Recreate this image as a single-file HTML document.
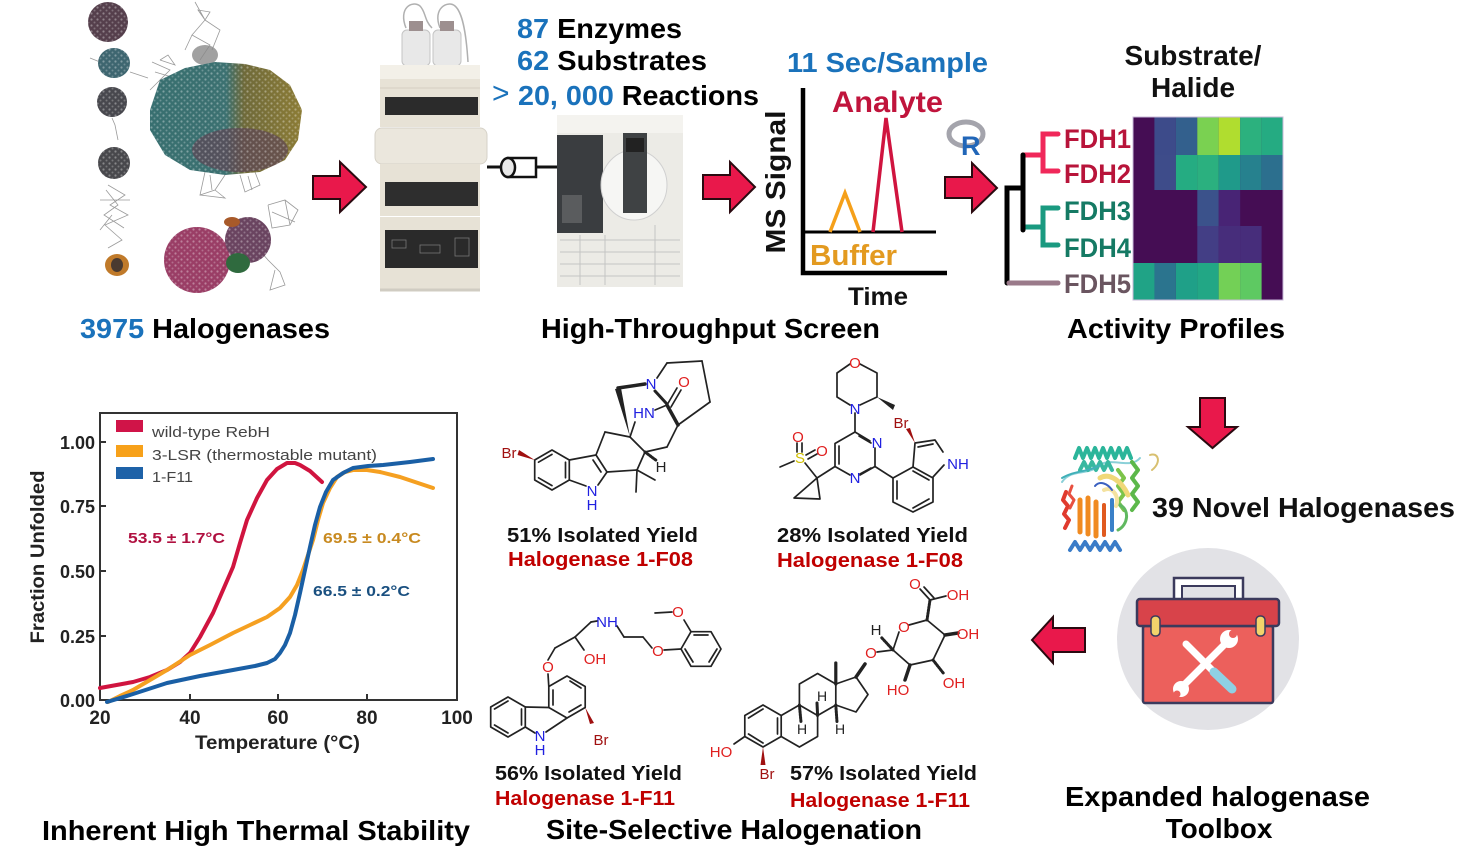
<!DOCTYPE html>
<html><head><meta charset="utf-8"><style>
html,body{margin:0;padding:0;background:#fff;}
svg{display:block;}
text{font-family:"Liberation Sans",Arial,sans-serif;}
</style></head><body>
<svg width="1475" height="866" viewBox="0 0 1475 866" xmlns="http://www.w3.org/2000/svg">
<defs>
<pattern id="dots" width="6" height="6" patternUnits="userSpaceOnUse">
<circle cx="1.5" cy="1.5" r="1.1" fill="#ffffff" opacity="0.35"/>
<circle cx="4.5" cy="4.5" r="1" fill="#ffffff" opacity="0.25"/>
</pattern>
<linearGradient id="blobg" x1="0" y1="0" x2="1" y2="0">
<stop offset="0" stop-color="#386f70"/><stop offset="0.5" stop-color="#3c7171"/>
<stop offset="0.62" stop-color="#6f6a3a"/><stop offset="1" stop-color="#8c7c36"/>
</linearGradient>
</defs>
<rect width="1475" height="866" fill="#fff"/>

<!-- ===== NETWORK ===== -->
<g stroke="#9a9a9a" stroke-width="0.8" fill="none">
<path d="M195,2 L205,20 L192,35 L210,45 L200,60 M205,20 L220,30 L212,50 M192,35 L185,50 M205,20 L198,10 L210,12 L205,20"/>
<path d="M152,62 L170,70 L160,80 L175,78 L155,72 M165,75 L150,90 M160,60 L175,65 L168,55 L160,60"/>
<path d="M205,172 L200,195 L215,190 L225,175 M240,175 L245,192 L260,185 L255,172 M200,195 L225,198 L215,190 M210,175 L212,190 M248,176 L252,190"/>
<path d="M90,58 L100,62 M130,72 L148,78 M112,118 L115,125 L118,140 M108,185 L125,195 L110,205 L128,215 L105,225 L122,240 L108,248 M100,200 L130,200 M112,215 L100,230 M106,190 L118,205 L104,215 L124,228"/>
<path d="M268,205 L285,200 L298,210 L290,225 L272,228 L268,205 M285,200 L290,225 M255,245 L268,260 L280,272 L285,285 L270,290 L275,270 M272,212 L295,222"/>
</g>
<ellipse cx="108" cy="22" rx="20" ry="20" fill="#553f4c"/><ellipse cx="108" cy="22" rx="20" ry="20" fill="url(#dots)"/>
<ellipse cx="114" cy="63" rx="16" ry="15" fill="#3e6670"/><ellipse cx="114" cy="63" rx="16" ry="15" fill="url(#dots)"/>
<ellipse cx="112" cy="102" rx="15" ry="15" fill="#48484e"/><ellipse cx="112" cy="102" rx="15" ry="15" fill="url(#dots)"/>
<ellipse cx="114" cy="163" rx="16" ry="16" fill="#48484c"/><ellipse cx="114" cy="163" rx="16" ry="16" fill="url(#dots)"/>
<ellipse cx="117" cy="265" rx="12" ry="11" fill="#c07a2a"/><ellipse cx="117" cy="265" rx="6" ry="7" fill="#4a3a30"/>
<ellipse cx="205" cy="55" rx="13" ry="10" fill="#8a8a8a" opacity="0.8"/>
<path d="M150,110 L160,80 L185,68 L215,62 L245,64 L270,70 L290,85 L302,110 L298,140 L285,160 L260,172 L225,175 L190,170 L165,155 L150,130 Z" fill="url(#blobg)"/>
<ellipse cx="240" cy="150" rx="48" ry="22" fill="#5e4656" opacity="0.7"/>
<path d="M150,110 L160,80 L185,68 L215,62 L245,64 L270,70 L290,85 L302,110 L298,140 L285,160 L260,172 L225,175 L190,170 L165,155 L150,130 Z" fill="url(#dots)"/>
<circle cx="197" cy="260" r="33" fill="#9a3e66"/><circle cx="197" cy="260" r="33" fill="url(#dots)"/>
<circle cx="248" cy="240" r="23" fill="#6a4460"/><circle cx="248" cy="240" r="23" fill="url(#dots)"/>
<ellipse cx="238" cy="263" rx="12" ry="10" fill="#2f6a3e"/>
<ellipse cx="232" cy="222" rx="8" ry="5" fill="#a85a2a"/>

<!-- ===== HPLC ===== -->
<g>
<path d="M406,28 C398,8 412,0 420,6 C426,12 424,20 432,28" stroke="#b0b0b0" fill="none" stroke-width="1.5"/>
<path d="M440,28 C432,8 448,0 455,6 C462,12 466,30 468,62" stroke="#b0b0b0" fill="none" stroke-width="1.5"/>
<rect x="402" y="30" width="28" height="36" rx="5" fill="#e8e8e8" stroke="#c4c4c4"/>
<rect x="409" y="21" width="14" height="10" fill="#9d8f8f"/>
<rect x="433" y="30" width="28" height="36" rx="5" fill="#e8e8e8" stroke="#c4c4c4"/>
<rect x="440" y="21" width="14" height="10" fill="#9d8f8f"/>
<rect x="380" y="65" width="100" height="62" fill="#e7e2d6"/>
<rect x="380" y="65" width="100" height="14" fill="#f3f0e8"/>
<line x1="380" y1="88" x2="480" y2="88" stroke="#d4cfc2"/>
<rect x="385" y="97" width="93" height="18" fill="#2b2b2b"/>
<rect x="375" y="128" width="112" height="36" rx="7" fill="#ebe7dd" stroke="#d6d2c8"/>
<rect x="380" y="164" width="100" height="52" fill="#e7e2d6"/>
<rect x="385" y="182" width="93" height="24" fill="#2e2e2e"/>
<rect x="380" y="217" width="100" height="72" fill="#e7e2d6"/>
<rect x="385" y="230" width="93" height="38" fill="#2a2a2a"/>
<g stroke="#777" stroke-width="0.8" fill="none"><rect x="392" y="240" width="14" height="8"/><rect x="420" y="245" width="20" height="8"/><rect x="455" y="238" width="14" height="18"/></g>
<line x1="380" y1="290" x2="480" y2="290" stroke="#d0ccc2" stroke-width="3"/>
</g>
<!-- column connector -->
<line x1="487" y1="167" x2="557" y2="167" stroke="#111" stroke-width="3"/>
<rect x="508" y="158" width="28" height="19" fill="#fff" stroke="#111" stroke-width="2.5"/>
<ellipse cx="508" cy="167.5" rx="7" ry="9.5" fill="#e8e8e8" stroke="#111" stroke-width="2.5"/>
<!-- MS machine -->
<g>
<rect x="557" y="115" width="126" height="172" fill="#ecebe6"/>
<rect x="557" y="115" width="126" height="18" fill="#f4f3ef"/>
<rect x="557" y="135" width="46" height="98" fill="#3a3d40"/>
<rect x="562" y="195" width="20" height="28" fill="#5a5c5e"/>
<ellipse cx="634" cy="185" rx="33" ry="35" fill="#f6f6f4" stroke="#d0d0d0"/>
<rect x="623" y="133" width="24" height="80" fill="#3f4244"/>
<rect x="626" y="138" width="18" height="14" fill="#222"/>
<g stroke="#c4c4c4" stroke-width="1">
<line x1="560" y1="240" x2="680" y2="240"/><line x1="560" y1="252" x2="680" y2="252"/><line x1="560" y1="264" x2="680" y2="264"/><line x1="560" y1="276" x2="680" y2="276"/>
<line x1="580" y1="235" x2="580" y2="285"/><line x1="605" y1="235" x2="605" y2="285"/><line x1="655" y1="225" x2="655" y2="285"/>
</g>
</g>

<!-- ===== ARROWS ===== -->
<g fill="#e9184b" stroke="#2a0a10" stroke-width="2" stroke-linejoin="miter">
<path d="M313,176 L340,176 L340,162 L366,187 L340,212 L340,199 L313,199 Z"/>
<path d="M703,175 L730,175 L730,162 L755,187 L730,212 L730,199 L703,199 Z"/>
<path d="M945,177 L972,177 L972,163 L997,188 L972,212 L972,198 L945,198 Z"/>
<path d="M1200,398 L1225,398 L1225,427 L1237,427 L1212.5,448 L1188,427 L1200,427 Z"/>
<path d="M1085,628 L1053,628 L1053,617 L1032,640 L1053,663 L1053,652 L1085,652 Z"/>
</g>

<!-- ===== TOP TEXTS ===== -->
<g font-weight="bold" font-size="28">
<text x="80" y="338" textLength="250" lengthAdjust="spacingAndGlyphs"><tspan fill="#1a72bb">3975</tspan><tspan fill="#000"> Halogenases</tspan></text>
<text x="541" y="338" textLength="339" lengthAdjust="spacingAndGlyphs" fill="#000">High-Throughput Screen</text>
<text x="1067" y="338" textLength="218" lengthAdjust="spacingAndGlyphs" fill="#000">Activity Profiles</text>
<text x="517" y="38" textLength="165" lengthAdjust="spacingAndGlyphs"><tspan fill="#1a72bb">87</tspan><tspan fill="#000"> Enzymes</tspan></text>
<text x="517" y="70" textLength="190" lengthAdjust="spacingAndGlyphs"><tspan fill="#1a72bb">62</tspan><tspan fill="#000"> Substrates</tspan></text>
<text x="518" y="105" textLength="241" lengthAdjust="spacingAndGlyphs"><tspan fill="#1a72bb">20, 000</tspan><tspan fill="#000"> Reactions</tspan></text>
<text x="787" y="72" textLength="201" lengthAdjust="spacingAndGlyphs" fill="#1a72bb">11 Sec/Sample</text>
<text x="1193" y="65" text-anchor="middle" fill="#111">Substrate/</text>
<text x="1193" y="97" text-anchor="middle" fill="#111">Halide</text>
</g>
<text x="492" y="103" font-size="30" fill="#1a72bb">&gt;</text>

<!-- ===== MS CHART ===== -->
<g fill="none" stroke-linejoin="miter">
<polyline points="803,88 803,273 947,273" stroke="#000" stroke-width="4.5"/>
<line x1="803" y1="232" x2="936" y2="232" stroke="#000" stroke-width="3"/>
<polyline points="830,232 845,193 860,232" stroke="#f5a01a" stroke-width="3.5"/>
<polyline points="873,232 886,118 902,232" stroke="#d0143f" stroke-width="3.5"/>
</g>
<text x="832" y="112" font-size="30" font-weight="bold" fill="#c0143c" textLength="111" lengthAdjust="spacingAndGlyphs">Analyte</text>
<text x="810" y="265" font-size="29" font-weight="bold" fill="#e39a20" textLength="87" lengthAdjust="spacingAndGlyphs">Buffer</text>
<text x="848" y="305" font-size="25" font-weight="bold" fill="#111" textLength="60" lengthAdjust="spacingAndGlyphs">Time</text>
<text transform="translate(785,182) rotate(-90)" text-anchor="middle" font-size="28" font-weight="bold" fill="#111" textLength="143" lengthAdjust="spacingAndGlyphs">MS Signal</text>
<!-- R logo -->
<ellipse cx="966" cy="134" rx="17" ry="12" fill="none" stroke="#a4a4ac" stroke-width="5"/>
<text x="961" y="155" font-size="27" font-weight="bold" fill="#2166b8">R</text>

<!-- ===== DENDROGRAM + HEATMAP ===== -->
<g fill="none" stroke-width="5" stroke-linecap="round">
<polyline points="1058,134 1043,134 1043,171 1058,171" stroke="#f0285a"/>
<line x1="1023" y1="155" x2="1043" y2="155" stroke="#f0285a"/>
<polyline points="1058,208 1043,208 1043,245 1058,245" stroke="#1a9a80"/>
<line x1="1023" y1="227" x2="1043" y2="227" stroke="#1a9a80"/>
<line x1="1023" y1="155" x2="1023" y2="230" stroke="#000"/>
<polyline points="1023,188 1007,188 1007,283" stroke="#000"/>
<line x1="1009" y1="283" x2="1058" y2="283" stroke="#9a7a8a"/>
</g>
<g font-size="27" font-weight="bold">
<text x="1064" y="148" fill="#b8143a" textLength="67" lengthAdjust="spacingAndGlyphs">FDH1</text>
<text x="1064" y="183" fill="#b8143a" textLength="67" lengthAdjust="spacingAndGlyphs">FDH2</text>
<text x="1064" y="220" fill="#157a64" textLength="67" lengthAdjust="spacingAndGlyphs">FDH3</text>
<text x="1064" y="257" fill="#157a64" textLength="67" lengthAdjust="spacingAndGlyphs">FDH4</text>
<text x="1064" y="293" fill="#6a5560" textLength="67" lengthAdjust="spacingAndGlyphs">FDH5</text>
</g>
<g>
<rect x="1133" y="117" width="150" height="183" fill="#450d54"/>
<rect x="1154.4" y="117" width="21.5" height="38" fill="#3d4b8a"/>
<rect x="1175.9" y="117" width="21.5" height="38" fill="#33608d"/>
<rect x="1197.3" y="117" width="21.5" height="38" fill="#7ad151"/>
<rect x="1218.7" y="117" width="21.5" height="38" fill="#b0dd2f"/>
<rect x="1240.1" y="117" width="21.5" height="38" fill="#2cb17e"/>
<rect x="1261.6" y="117" width="21.4" height="38" fill="#25ab82"/>
<rect x="1154.4" y="155" width="21.5" height="35" fill="#3e4c8a"/>
<rect x="1175.9" y="155" width="21.5" height="35" fill="#25ac82"/>
<rect x="1197.3" y="155" width="21.5" height="35" fill="#2bb07f"/>
<rect x="1218.7" y="155" width="21.5" height="35" fill="#1f9a8a"/>
<rect x="1240.1" y="155" width="21.5" height="35" fill="#26818e"/>
<rect x="1261.6" y="155" width="21.4" height="35" fill="#2c6f8e"/>
<rect x="1197.3" y="190" width="21.5" height="36" fill="#3b528b"/>
<rect x="1218.7" y="190" width="21.5" height="36" fill="#482475"/>
<rect x="1197.3" y="226" width="21.5" height="37" fill="#433e85"/>
<rect x="1218.7" y="226" width="21.5" height="37" fill="#472d7b"/>
<rect x="1240.1" y="226" width="21.5" height="37" fill="#472d7b"/>
<rect x="1133" y="263" width="21.5" height="37" fill="#20a386"/>
<rect x="1154.4" y="263" width="21.5" height="37" fill="#2b748e"/>
<rect x="1175.9" y="263" width="21.5" height="37" fill="#1fa088"/>
<rect x="1197.3" y="263" width="21.5" height="37" fill="#22a785"/>
<rect x="1218.7" y="263" width="21.5" height="37" fill="#73d056"/>
<rect x="1240.1" y="263" width="21.5" height="37" fill="#5ec962"/>
<rect x="1133" y="117" width="150" height="183" fill="none" stroke="#c8b8d8" stroke-width="1"/>
</g>

<!-- ===== THERMAL PLOT ===== -->
<g>
<rect x="100" y="413" width="357" height="287" fill="none" stroke="#333" stroke-width="2"/>
<g stroke="#333" stroke-width="2">
<line x1="190" y1="700" x2="190" y2="694"/><line x1="278" y1="700" x2="278" y2="694"/><line x1="367" y1="700" x2="367" y2="694"/>
<line x1="100" y1="442" x2="106" y2="442"/><line x1="100" y1="506" x2="106" y2="506"/><line x1="100" y1="571" x2="106" y2="571"/><line x1="100" y1="636" x2="106" y2="636"/>
</g>
<g fill="none" stroke-width="4" stroke-linejoin="round" stroke-linecap="round">
<polyline stroke="#d0143f" points="100,688 133,682 150,677 167,670 180,662 190,653 200,637 213,613 223,590 233,567 240,543 247,520 257,498 267,480 277,469 287,463 295,463 300,465 310,471 322,482"/>
<polyline stroke="#f5a021" points="108,702 120,696 133,690 150,680 167,670 190,655 210,645 233,633 250,625 267,617 280,608 290,597 297,585 303,570 308,555 313,540 318,520 323,503 330,488 337,477 345,472 353,470 367,470 380,472 400,477 433,488"/>
<polyline stroke="#1a5fa5" points="107,702 130,695 167,683 200,676 233,670 255,666 267,663 275,659 280,653 285,645 290,633 295,615 300,593 305,570 310,547 315,525 320,507 326,492 333,480 343,473 353,468 368,466 383,465 410,462 433,459"/>
</g>
<rect x="116" y="420" width="27" height="12" fill="#d01448"/>
<rect x="116" y="445" width="27" height="12" fill="#f7a11a"/>
<rect x="116" y="467" width="27" height="12" fill="#1e62a8"/>
<g font-size="15" fill="#444">
<text x="152" y="437" textLength="118" lengthAdjust="spacingAndGlyphs">wild-type RebH</text>
<text x="152" y="460" textLength="225" lengthAdjust="spacingAndGlyphs">3-LSR (thermostable mutant)</text>
<text x="152" y="482" textLength="41" lengthAdjust="spacingAndGlyphs">1-F11</text>
</g>
<g font-size="15" font-weight="bold">
<text x="128" y="543" fill="#b01040" textLength="97" lengthAdjust="spacingAndGlyphs">53.5 ± 1.7°C</text>
<text x="323" y="543" fill="#c88a20" textLength="98" lengthAdjust="spacingAndGlyphs">69.5 ± 0.4°C</text>
<text x="313" y="596" fill="#1a5080" textLength="97" lengthAdjust="spacingAndGlyphs">66.5 ± 0.2°C</text>
</g>
<g font-size="18" font-weight="bold" fill="#222" text-anchor="end">
<text x="95" y="449">1.00</text><text x="95" y="513">0.75</text><text x="95" y="578">0.50</text><text x="95" y="643">0.25</text><text x="95" y="707">0.00</text>
</g>
<g font-size="19" font-weight="bold" fill="#222" text-anchor="middle">
<text x="100" y="724">20</text><text x="190" y="724">40</text><text x="278" y="724">60</text><text x="367" y="724">80</text><text x="457" y="724">100</text>
</g>
<text x="195" y="749" font-size="19" font-weight="bold" fill="#222" textLength="165" lengthAdjust="spacingAndGlyphs">Temperature (°C)</text>
<text transform="translate(44,557) rotate(-90)" text-anchor="middle" font-size="19" font-weight="bold" fill="#222" textLength="173" lengthAdjust="spacingAndGlyphs">Fraction Unfolded</text>
</g>

<!-- ===== MOLECULES ===== -->
<g fill="none" stroke="#222" stroke-width="1.7" stroke-linecap="round" stroke-linejoin="round">
<!-- mol1 -->
<polygon points="552,450 569.3,460 569.3,480 552,490 534.7,480 534.7,460"/>
<line x1="538.5" y1="462.2" x2="552" y2="454.4"/><line x1="565.5" y1="462.2" x2="565.5" y2="477.8"/><line x1="552" y1="485.6" x2="538.5" y2="477.8"/>
<line x1="569.3" y1="460" x2="596" y2="455"/><line x1="596" y1="455" x2="607" y2="472"/><line x1="593" y1="460" x2="601" y2="472"/>
<line x1="607" y1="472" x2="598" y2="485"/><line x1="586" y1="486" x2="569.3" y2="480"/>
<line x1="596" y1="455" x2="605" y2="432"/><line x1="605" y1="432" x2="630" y2="437"/><line x1="630" y1="437" x2="645" y2="452"/>
<line x1="645" y1="452" x2="637" y2="470"/><line x1="637" y1="470" x2="607" y2="472"/>
<line x1="637" y1="470" x2="655" y2="480"/><line x1="637" y1="470" x2="636" y2="492"/>
<line x1="645" y1="452" x2="657" y2="461" stroke-dasharray="1.5,1.5" stroke-width="3"/>
<line x1="618" y1="388" x2="645" y2="384" stroke-width="3.5"/>
<line x1="630" y1="437" x2="635" y2="422"/>
<line x1="655" y1="410" x2="667" y2="405"/>
<line x1="667" y1="405" x2="677" y2="388"/><line x1="671" y1="407" x2="681" y2="390"/>
<line x1="657" y1="378" x2="667" y2="363"/><line x1="667" y1="363" x2="702" y2="361"/><line x1="702" y1="361" x2="710" y2="402"/>
<line x1="710" y1="402" x2="678" y2="425"/><line x1="678" y1="425" x2="667" y2="405" stroke-width="3.5"/>
<line x1="655" y1="391" x2="666" y2="403" stroke-width="3"/>
<line x1="678" y1="425" x2="667" y2="447"/><line x1="667" y1="447" x2="645" y2="452"/>
<!-- mol2 -->
<polyline points="850,364 837,373 837,397 850,405"/>
<polyline points="860,364 877,373 877,397 860,405"/>
<line x1="855" y1="413" x2="855" y2="432"/>
<polyline points="870,441 855,432 835,443.5 835,466.5 850,475"/>
<line x1="859" y1="436" x2="871" y2="443"/><line x1="839" y1="446" x2="839" y2="464"/>
<polyline points="875,448 875,466.5 860,475"/><line x1="871" y1="468" x2="860" y2="474"/>
<line x1="835" y1="466.5" x2="817" y2="478"/>
<polygon points="817,478 794,498 820,499"/>
<line x1="817" y1="478" x2="805" y2="463"/>
<line x1="797" y1="452" x2="797" y2="443"/><line x1="802" y1="452" x2="802" y2="443"/>
<line x1="806" y1="455" x2="815" y2="450"/><line x1="808" y1="459" x2="817" y2="454"/>
<line x1="794" y1="461" x2="780" y2="467"/>
<line x1="875" y1="466.5" x2="893" y2="478"/>
<polygon points="893,478 893,502 913,512 933,502 933,478 913,467"/>
<line x1="897" y1="481" x2="897" y2="499"/><line x1="913" y1="508" x2="929" y2="499"/><line x1="929" y1="480" x2="913" y2="471"/>
<polyline points="913,467 915,443 935,440 943,452"/><line x1="918" y1="447" x2="933" y2="444"/>
<line x1="944" y1="465" x2="933" y2="477"/>
<!-- mol3 -->
<polygon points="508,697 525.3,707 525.3,727 508,737 490.7,727 490.7,707"/>
<line x1="494.5" y1="709" x2="508" y2="701"/><line x1="521.5" y1="709" x2="521.5" y2="725"/><line x1="508" y1="733" x2="494.5" y2="725"/>
<polygon points="567,676 585.2,686.5 585.2,707.5 567,718 548.8,707.5 548.8,686.5"/>
<line x1="570" y1="681" x2="581" y2="688"/><line x1="581" y1="705" x2="569" y2="712"/><line x1="553" y1="690" x2="553" y2="705"/>
<line x1="525.3" y1="707" x2="548.8" y2="707.5"/><line x1="525.3" y1="727" x2="535" y2="733"/><line x1="546" y1="732" x2="567" y2="718"/>
<line x1="548.8" y1="686.5" x2="548" y2="674"/>
<line x1="548" y1="660" x2="555" y2="648"/><line x1="555" y1="648" x2="575" y2="637"/><line x1="575" y1="637" x2="584" y2="650"/>
<line x1="575" y1="637" x2="591" y2="622"/><line x1="591" y1="622" x2="597" y2="621"/>
<line x1="617" y1="626" x2="624" y2="637"/><line x1="624" y1="637" x2="643" y2="637"/><line x1="643" y1="637" x2="652" y2="648"/>
<line x1="664" y1="650" x2="681" y2="649"/>
<polygon points="721,649 711,666.3 691,666.3 681,649 691,631.7 711,631.7"/>
<line x1="694" y1="635" x2="708" y2="635"/><line x1="717" y1="649" x2="709" y2="662"/><line x1="693" y1="662" x2="685" y2="649"/>
<line x1="691" y1="631.7" x2="684" y2="620"/><line x1="672" y1="612" x2="655" y2="613"/>
<!-- mol4 -->
<polygon points="763,705 781.2,715.5 781.2,736.5 763,747 744.8,736.5 744.8,715.5"/>
<line x1="748.5" y1="718" x2="763" y2="709"/><line x1="777.5" y1="718" x2="777.5" y2="734"/><line x1="763" y1="743" x2="748.5" y2="734"/>
<polyline points="781.2,715.5 799.4,705 817.6,715.5 817.6,736.5 799.4,747 781.2,736.5"/>
<polyline points="799.4,705 799.4,684 817.6,673.5 835.8,684 835.8,705 817.6,715.5"/>
<polyline points="835.8,684 856,677 868,694.5 856,712 835.8,705"/>
<line x1="835.8" y1="684" x2="835.8" y2="663" stroke-width="3.2"/>
<line x1="744.8" y1="736.5" x2="734" y2="744"/>
<line x1="817.6" y1="715.5" x2="817" y2="703" stroke-width="3"/>
<line x1="799.4" y1="705" x2="801" y2="722" stroke-dasharray="1.5,1.5" stroke-width="3"/>
<line x1="835.8" y1="705" x2="837" y2="722" stroke-dasharray="1.5,1.5" stroke-width="3"/>
<line x1="856" y1="677" x2="865" y2="664" stroke-width="3.5"/>
<line x1="877" y1="652" x2="893" y2="650"/>
<polyline points="893,650 899,632"/><polyline points="909,625 927,620 945,635 933,660 910,665 893,650"/>
<line x1="893" y1="650" x2="881" y2="637" stroke-dasharray="1.5,1.5" stroke-width="3"/>
<line x1="927" y1="620" x2="930" y2="600" stroke-dasharray="1.5,1.5" stroke-width="3"/>
<line x1="930" y1="600" x2="920" y2="589"/><line x1="934" y1="598" x2="924" y2="587"/>
<line x1="930" y1="600" x2="946" y2="596"/>
<line x1="945" y1="635" x2="958" y2="633" stroke-width="3.5"/>
<line x1="933" y1="660" x2="944" y2="674" stroke-dasharray="1.5,1.5" stroke-width="3"/>
<line x1="910" y1="665" x2="905" y2="680" stroke-width="3.5"/>
</g>
<g fill="#222">
<polygon points="630,437 615,389 621,388"/>
<polygon points="877,397 895,405 893,410"/>
</g>
<g fill="#a01010">
<polygon points="534.7,460 519,450 517.5,455"/>
<polygon points="915,443 906,429 910,428"/>
<polygon points="585.2,707.5 590,724 594,723"/>
<polygon points="763,747 760.5,765 765.5,765"/>
</g>
<g font-size="15" text-anchor="middle">
<text x="509" y="458" fill="#a01010">Br</text>
<text x="592" y="496" fill="#2020e0">N</text><text x="592" y="510" fill="#2020e0">H</text>
<text x="661" y="472" fill="#222">H</text>
<text x="651" y="389" fill="#2020e0">N</text>
<text x="644" y="418" fill="#2020e0">HN</text>
<text x="684" y="387" fill="#e02020">O</text>
<text x="855" y="368" fill="#e02020">O</text>
<text x="855" y="414" fill="#2020e0">N</text>
<text x="877" y="448" fill="#2020e0">N</text>
<text x="855" y="483" fill="#2020e0">N</text>
<text x="800" y="463" fill="#d0c000">S</text>
<text x="798" y="442" fill="#e02020">O</text>
<text x="822" y="456" fill="#e02020">O</text>
<text x="901" y="428" fill="#a01010">Br</text>
<text x="958" y="469" fill="#2020e0">NH</text>
<text x="540" y="741" fill="#2020e0">N</text><text x="540" y="755" fill="#2020e0">H</text>
<text x="601" y="745" fill="#a01010">Br</text>
<text x="548" y="672" fill="#e02020">O</text>
<text x="595" y="664" fill="#e02020">OH</text>
<text x="607" y="627" fill="#2020e0">NH</text>
<text x="658" y="656" fill="#e02020">O</text>
<text x="678" y="617" fill="#e02020">O</text>
<text x="721" y="757" fill="#e02020">HO</text>
<text x="767" y="779" fill="#a01010">Br</text>
<text x="871" y="658" fill="#e02020">O</text>
<text x="904" y="632" fill="#e02020">O</text>
<text x="876" y="635" fill="#222">H</text>
<text x="915" y="589" fill="#e02020">O</text>
<text x="958" y="600" fill="#e02020">OH</text>
<text x="968" y="639" fill="#e02020">OH</text>
<text x="954" y="688" fill="#e02020">OH</text>
<text x="898" y="695" fill="#e02020">HO</text>
</g>
<g font-size="14" text-anchor="middle" fill="#222">
<text x="802" y="734">H</text><text x="822" y="701">H</text><text x="840" y="734">H</text>
</g>

<g font-size="20" font-weight="bold">
<text x="507" y="542" fill="#111" textLength="191" lengthAdjust="spacingAndGlyphs">51% Isolated Yield</text>
<text x="508" y="566" fill="#c00000" textLength="185" lengthAdjust="spacingAndGlyphs">Halogenase 1-F08</text>
<text x="777" y="542" fill="#111" textLength="191" lengthAdjust="spacingAndGlyphs">28% Isolated Yield</text>
<text x="777" y="567" fill="#c00000" textLength="186" lengthAdjust="spacingAndGlyphs">Halogenase 1-F08</text>
<text x="495" y="780" fill="#111" textLength="187" lengthAdjust="spacingAndGlyphs">56% Isolated Yield</text>
<text x="495" y="805" fill="#c00000" textLength="180" lengthAdjust="spacingAndGlyphs">Halogenase 1-F11</text>
<text x="790" y="780" fill="#111" textLength="187" lengthAdjust="spacingAndGlyphs">57% Isolated Yield</text>
<text x="790" y="807" fill="#c00000" textLength="180" lengthAdjust="spacingAndGlyphs">Halogenase 1-F11</text>
</g>

<!-- ===== PROTEIN ===== -->
<g fill="none" stroke-width="4" stroke-linecap="round" stroke-linejoin="round">
<path d="M1062,482 C1072,468 1088,476 1098,466 C1110,456 1130,470 1140,458" stroke="#8ad0d8" stroke-width="2"/>
<path d="M1075,458 l4,-10 l4,10 l4,-10 l4,10 l4,-10 l4,10 l4,-10 l4,10 l4,-10 l4,10 l4,-10 l4,10 l4,-10 l4,10" stroke="#2bb59a"/>
<path d="M1080,470 l4,-8 l4,8 l4,-8 l4,8 l4,-8 l4,8 l4,-8 l4,8" stroke="#38b8a0"/>
<path d="M1062,478 C1075,470 1090,472 1100,465" stroke="#40b0b8" stroke-width="2"/>
<path d="M1118,470 l6,8 l-6,8 l6,8 l-6,8 l6,8" stroke="#7cc44a"/>
<path d="M1132,462 l6,8 l-6,8 l6,8 l-6,8 l6,8 l-6,8" stroke="#5cb84a"/>
<path d="M1100,478 C1110,472 1122,482 1128,495" stroke="#f0d878" stroke-width="5"/>
<path d="M1104,490 C1112,486 1120,496 1116,506" stroke="#f4e2a0" stroke-width="4"/>
<path d="M1150,455 C1158,452 1162,462 1152,470" stroke="#d8c070" stroke-width="2"/>
<path d="M1066,492 l-3,8 l5,6 l-4,8 l5,6 l-4,8" stroke="#e03a2e"/>
<path d="M1072,486 l-3,8 l5,6 l-4,8" stroke="#e85040" stroke-width="3"/>
<path d="M1080,500 l0,32 M1088,498 l0,36 M1096,502 l0,34" stroke="#f08a20" stroke-width="5"/>
<path d="M1104,505 l0,30" stroke="#e05a20" stroke-width="4"/>
<path d="M1112,500 l0,30" stroke="#3a80c8" stroke-width="4"/>
<path d="M1120,505 C1130,510 1128,525 1118,530" stroke="#60b860" stroke-width="3"/>
<path d="M1070,550 l5,-8 l5,8 l5,-8 l5,8 l5,-8 l5,8 l5,-8 l5,8 l5,-8 l5,8" stroke="#3a7cc8"/>
<path d="M1095,486 C1100,480 1108,484 1112,490" stroke="#3a60c0" stroke-width="2"/>
</g>
<text x="1152" y="517" font-size="28" font-weight="bold" fill="#111" textLength="303" lengthAdjust="spacingAndGlyphs">39 Novel Halogenases</text>

<!-- ===== TOOLBOX ===== -->
<circle cx="1208" cy="639" r="91" fill="#e2e2e6"/>
<rect x="1174" y="578" width="69" height="26" fill="#fff" stroke="#3b3a5c" stroke-width="2.5"/>
<rect x="1182" y="586" width="53" height="16" fill="#e2e2e6" stroke="#3b3a5c" stroke-width="2"/>
<rect x="1143" y="626" width="130" height="77" rx="2" fill="#ec605c" stroke="#3b3a5c" stroke-width="2.5"/>
<rect x="1137" y="599" width="142" height="27" rx="3" fill="#d8434a" stroke="#3b3a5c" stroke-width="2.5"/>
<rect x="1151" y="616" width="9" height="20" rx="4" fill="#f2d36b" stroke="#3b3a5c" stroke-width="1.5"/>
<rect x="1256" y="616" width="9" height="20" rx="4" fill="#f2d36b" stroke="#3b3a5c" stroke-width="1.5"/>
<line x1="1186" y1="644" x2="1222" y2="680" stroke="#fff" stroke-width="7" stroke-linecap="round"/>
<line x1="1214" y1="672" x2="1232" y2="689" stroke="#8fd0e4" stroke-width="9" stroke-linecap="round"/>
<line x1="1184" y1="685" x2="1226" y2="643" stroke="#fff" stroke-width="7" stroke-linecap="round"/>
<circle cx="1229" cy="639" r="9" fill="#fff"/><circle cx="1233" cy="634" r="4" fill="#ec605c"/>
<circle cx="1181" cy="689" r="8" fill="#fff"/><circle cx="1177" cy="694" r="3.5" fill="#ec605c"/>

<!-- ===== BOTTOM LABELS ===== -->
<g font-size="28" font-weight="bold" fill="#000">
<text x="42" y="840" textLength="428" lengthAdjust="spacingAndGlyphs">Inherent High Thermal Stability</text>
<text x="546" y="839" textLength="376" lengthAdjust="spacingAndGlyphs">Site-Selective Halogenation</text>
<text x="1065" y="806" textLength="305" lengthAdjust="spacingAndGlyphs">Expanded halogenase</text>
<text x="1219" y="838" text-anchor="middle">Toolbox</text>
</g>
</svg>
</body></html>
